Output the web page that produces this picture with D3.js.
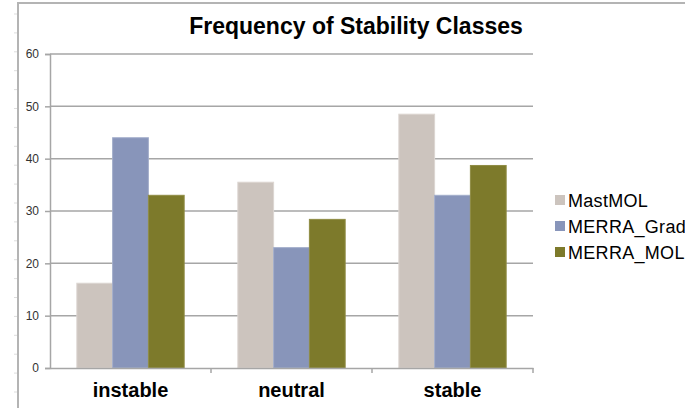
<!DOCTYPE html>
<html>
<head>
<meta charset="utf-8">
<script src="https://cdn.jsdelivr.net/npm/d3@7/dist/d3.min.js"></script>
<style>
  html, body { margin: 0; padding: 0; background: #fff; }
  svg { display: block; font-family: Arial, "Liberation Sans", sans-serif; }
</style>
</head>
<body>
<svg id="chart" width="685" height="408"></svg>
<script>
// Stability class frequencies (%)
const categories = ["instable", "neutral", "stable"];
const seriesNames = ["MastMOL", "MERRA_Grad", "MERRA_MOL"];
const mastMOL   = [16.2, 35.5, 48.5];
const merraGrad = [44.0, 23.0, 33.0];
const merraMOL  = [33.0, 28.4, 38.7];
const yTicks = [0, 10, 20, 30, 40, 50, 60];
const colors = ["#ccc4be", "#8895ba", "#7d7a2b"];
const edge   = ["#dcd6d1", "#a3aecb", "#8f8c44"];

const seriesValues = [mastMOL, merraGrad, merraMOL];

const svg = d3.select("#chart");

// outer frame
const frame = svg.append("g");
frame.append("line").attr("x1", 18).attr("x2", 685).attr("y1", 3).attr("y2", 3)
  .attr("stroke", "#b4b4b4").attr("stroke-width", 2);
frame.append("line").attr("x1", 18).attr("x2", 18).attr("y1", 2).attr("y2", 408)
  .attr("stroke", "#b4b4b4").attr("stroke-width", 2);
d3.range(14, 408, 18.9).forEach(yy => {
  frame.append("line").attr("x1", 14).attr("x2", 17).attr("y1", yy).attr("y2", yy)
    .attr("stroke", "#dddddd").attr("stroke-width", 1);
});

const plotLeft = 50, plotRight = 533, plotTop = 54, plotBottom = 368;

const x0 = d3.scaleBand().domain(categories).range([plotLeft, plotRight]).paddingInner(0).paddingOuter(0);
const x1 = d3.scaleBand().domain(seriesNames).range([0, x0.bandwidth()]).paddingInner(0).paddingOuter(0.75);
const y = d3.scaleLinear().domain([0, 60]).range([plotBottom, plotTop]);

// gridlines
svg.append("g").selectAll("line").data(yTicks.filter(d => d > 0)).join("line")
  .attr("x1", plotLeft).attr("x2", plotRight)
  .attr("y1", d => y(d)).attr("y2", d => y(d))
  .attr("stroke", "#a6a6a6").attr("stroke-width", 1.5);

// y axis
const yAxis = svg.append("g").attr("transform", `translate(${plotLeft},0)`)
  .call(d3.axisLeft(y).tickValues(yTicks).tickSize(5).tickPadding(6));
yAxis.select(".domain").attr("stroke", "#a6a6a6").attr("stroke-width", 1.5);
yAxis.selectAll(".tick line").attr("stroke", "#a6a6a6").attr("stroke-width", 1.5);
yAxis.selectAll("text").attr("fill", "#333").style("font-size", "12px");

// bars
const groups = svg.append("g").selectAll("g").data(categories).join("g")
  .attr("transform", c => `translate(${x0(c)},0)`);
groups.selectAll("rect")
  .data((c, ci) => seriesNames.map((s, si) => ({ s, si, v: seriesValues[si][ci] })))
  .join("rect")
  .attr("x", d => x1(d.s))
  .attr("width", x1.bandwidth())
  .attr("y", d => y(d.v))
  .attr("height", d => y(0) - y(d.v))
  .attr("fill", d => colors[d.si])
  .attr("stroke", d => edge[d.si])
  .attr("stroke-width", 1);

// x axis
const xAxis = svg.append("g").attr("transform", `translate(0,${plotBottom})`)
  .call(d3.axisBottom(x0).tickSize(0).tickPadding(15));
xAxis.select(".domain").attr("stroke", "#a6a6a6").attr("stroke-width", 1.5);
xAxis.selectAll("text").attr("fill", "#000").style("font-size", "20px").style("font-weight", "bold");
svg.append("g").selectAll("line").data(categories).join("line")
  .attr("x1", c => x0(c) + x0.bandwidth()).attr("x2", c => x0(c) + x0.bandwidth())
  .attr("y1", plotBottom).attr("y2", plotBottom + 5)
  .attr("stroke", "#a6a6a6").attr("stroke-width", 1.5);

// title
svg.append("text").attr("x", 356).attr("y", 34).attr("text-anchor", "middle")
  .style("font-size", "23px").style("font-weight", "bold").attr("fill", "#000")
  .text("Frequency of Stability Classes");

// legend
const legend = svg.append("g").selectAll("g").data(seriesNames).join("g")
  .attr("transform", (d, i) => `translate(555,${200 + i * 26})`);
legend.append("rect").attr("x", 0).attr("y", -5).attr("width", 10).attr("height", 10)
  .attr("fill", (d, i) => colors[i]);
legend.append("text").attr("x", 13).attr("y", 6.5).style("font-size", "18px")
  .style("letter-spacing", "0.3px")
  .attr("fill", "#000").text(d => d);
</script>
</body>
</html>
